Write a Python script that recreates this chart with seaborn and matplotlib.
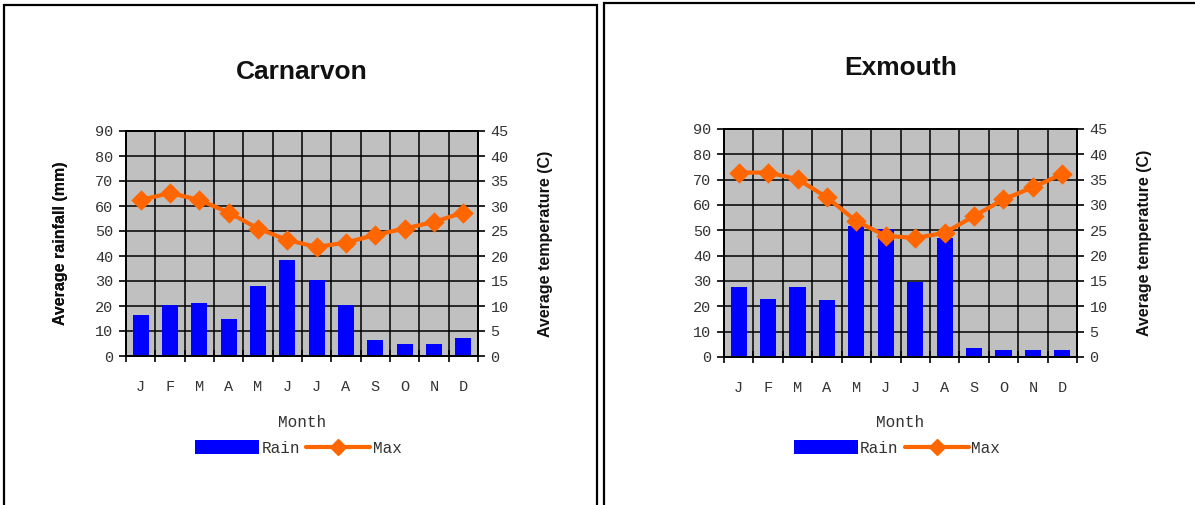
import numpy as np
import pandas as pd
import matplotlib
matplotlib.use("Agg")
import matplotlib.pyplot as plt
from matplotlib.patches import Rectangle, Patch
from matplotlib.lines import Line2D
import seaborn as sns

# Monthly climate data
months = ["Jan", "Feb", "Mar", "Apr", "May", "Jun",
          "Jul", "Aug", "Sep", "Oct", "Nov", "Dec"]
month_labels = ["J", "F", "M", "A", "M", "J", "J", "A", "S", "O", "N", "D"]

carnarvon_rain = [16.6, 20.3, 21.4, 15.0, 27.9, 38.3, 30.6, 20.3, 6.3, 5.0, 5.0, 7.4]
carnarvon_max = [31.2, 32.6, 31.2, 28.7, 25.5, 23.2, 21.8, 22.7, 24.2, 25.5, 26.8, 28.7]

exmouth_rain = [27.7, 22.9, 27.7, 22.5, 51.6, 50.6, 29.8, 47.1, 3.6, 2.6, 2.6, 2.6]
exmouth_max = [36.4, 36.4, 35.1, 31.5, 26.8, 23.9, 23.5, 24.5, 27.8, 31.1, 33.5, 36.1]

rain_ticks = list(range(0, 91, 10))
temp_ticks = list(range(0, 46, 5))

BAR_COLOR = "#0000FF"
LINE_COLOR = "#FF6600"
PANEL_BG = "#C0C0C0"
TEXT_GRAY = "#333333"
MONO = ["Liberation Mono", "DejaVu Sans Mono"]
SANS = ["Liberation Sans", "DejaVu Sans"]

sns.set_theme(style="white")
plt.rcParams["font.family"] = SANS

W, H = 1195, 505
fig = plt.figure(figsize=(W / 100, H / 100), dpi=100)
fig.patch.set_facecolor("white")


def fx(px):
    return px / W


def fy(py):
    return 1 - py / H


# Panel frames
fig.patches.append(Rectangle((fx(4), fy(520)), fx(597 - 4), (520 - 5) / H,
                             transform=fig.transFigure, fill=False,
                             edgecolor="black", linewidth=1.6, zorder=0))
fig.patches.append(Rectangle((fx(604), fy(520)), fx(1210 - 604), (520 - 3) / H,
                             transform=fig.transFigure, fill=False,
                             edgecolor="black", linewidth=1.6, zorder=0))


def climate_panel(rect, title, title_y, rain, tmax, legend_x):
    left, top, right, bottom = rect
    ax = fig.add_axes([fx(left), fy(bottom), fx(right - left), (bottom - top) / H])
    df = pd.DataFrame({"month": months, "rain": rain, "max": tmax})

    sns.barplot(data=df, x="month", y="rain", color=BAR_COLOR, saturation=1,
                width=0.55, ax=ax, zorder=3, edgecolor="none")
    ax.set_facecolor(PANEL_BG)
    ax.set_ylim(0, 90)
    ax.set_yticks(rain_ticks)
    ax.set_xlim(-0.5, 11.5)

    ax2 = ax.twinx()
    sns.pointplot(data=df, x="month", y="max", color=LINE_COLOR, markers="D",
                  errorbar=None, ax=ax2, markersize=8.5, linewidth=3.0)
    ax2.set_ylim(0, 45)
    ax2.set_yticks(temp_ticks)
    ax2.set_xlim(-0.5, 11.5)
    ax2.set_ylabel("")

    # grid: horizontal at every tick, vertical at category boundaries
    ax.set_xticks(np.arange(12))
    ax.set_xticks(np.arange(-0.5, 12, 1), minor=True)
    ax.set_xticklabels(month_labels, family=MONO, fontsize=11, color=TEXT_GRAY)
    ax.set_axisbelow(True)
    ax.grid(False)
    ax.yaxis.grid(True, color="black", linewidth=1.1, zorder=1)
    ax.xaxis.grid(True, which="minor", color="black", linewidth=1.1, zorder=1)

    ax.tick_params(axis="x", which="major", length=0, pad=17)
    ax.tick_params(axis="x", which="minor", direction="inout", length=8,
                   width=1.2, color="black", bottom=True)
    ax.tick_params(axis="y", direction="out", length=5, width=1.2,
                   color="black", left=True, pad=4)
    ax2.tick_params(axis="y", direction="out", length=5, width=1.2,
                    color="black", right=True, pad=4)
    for lab in ax.get_yticklabels() + ax2.get_yticklabels():
        lab.set_family(MONO)
        lab.set_fontsize(11)
        lab.set_color(TEXT_GRAY)

    for a in (ax, ax2):
        for sp in a.spines.values():
            sp.set_color("black")
            sp.set_linewidth(1.4)
            sp.set_visible(True)

    ax.set_xlabel("Month", family=MONO, fontsize=11.5, color=TEXT_GRAY)
    ax.xaxis.set_label_coords(0.5, (bottom - 415) / (bottom - top))
    ax.set_ylabel("Average rainfall (mm)", family=SANS, fontsize=11.5,
                  fontweight="bold", color="#111111")
    ax.yaxis.set_label_coords((68 - left) / (right - left), 0.5)
    ax2.set_ylabel("Average temperature (C)", family=SANS, fontsize=11.5,
                   fontweight="bold", color="#111111", rotation=90)
    ax2.yaxis.set_label_position("right")
    ax2.yaxis.set_label_coords((538 - left + (right - 478)) / (right - left), 0.5)

    fig.text(fx((left + right) / 2), fy(title_y), title, ha="center", va="center",
             family=SANS, fontsize=19, fontweight="bold", color="#111111")

    handles = [Patch(facecolor=BAR_COLOR, edgecolor="none"),
               Line2D([], [], color=LINE_COLOR, linewidth=3.0, marker="D",
                      markersize=8)]
    ax.legend(handles, ["Rain", "Max"], loc="center", ncol=2, frameon=False,
              bbox_to_anchor=(legend_x, (bottom - 448) / (bottom - top)),
              prop={"family": MONO, "size": 11.5}, handlelength=4.0,
              handleheight=1.0, handletextpad=0.15, columnspacing=0.4,
              numpoints=1, labelcolor=TEXT_GRAY)
    return ax, ax2


climate_panel((126, 131, 478, 356), "Carnarvon", 72,
              carnarvon_rain, carnarvon_max, 0.49)
climate_panel((724, 129, 1077, 357), "Exmouth", 68,
              exmouth_rain, exmouth_max, 0.49)

fig.savefig("out.png", dpi=100)
